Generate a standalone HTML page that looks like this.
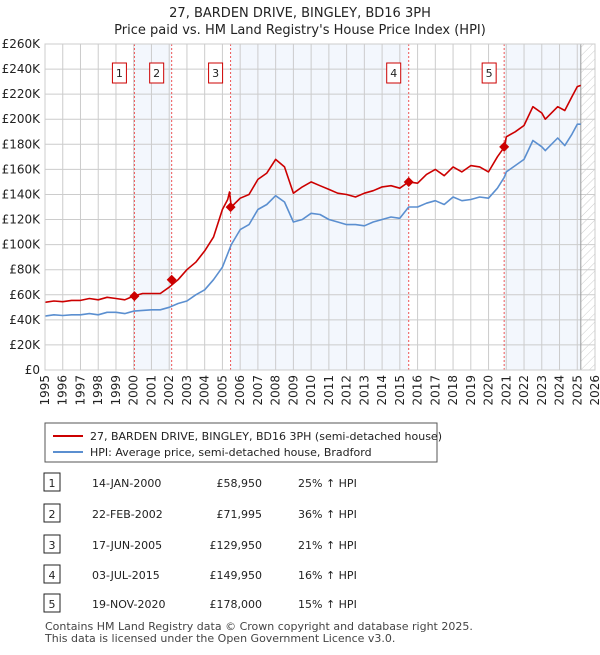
<!DOCTYPE html>
<html><head><meta charset="utf-8"><style>
body{margin:0;background:#fff;font-family:"Liberation Sans","DejaVu Sans",sans-serif;}
svg text{font-family:"DejaVu Sans","Liberation Sans",sans-serif;}
</style></head><body>
<svg width="600" height="650" xmlns="http://www.w3.org/2000/svg" id="svg">
<defs><pattern id="hatch" width="6" height="6" patternUnits="userSpaceOnUse" patternTransform="rotate(45)"><line x1="0" y1="0" x2="0" y2="6" stroke="#ccc" stroke-width="1"/></pattern></defs>
<text x="300" y="17" text-anchor="middle" font-size="13" fill="#222">27, BARDEN DRIVE, BINGLEY, BD16 3PH</text>
<text x="300" y="34" text-anchor="middle" font-size="13" fill="#222">Price paid vs. HM Land Registry's House Price Index (HPI)</text>
<g id="plot"></g>
<g>
<rect x="45" y="423" width="392" height="39" fill="#fff" stroke="#555"/>
<line x1="53" y1="436" x2="83" y2="436" stroke="#cc0000" stroke-width="2"/>
<text x="90" y="440" font-size="11" fill="#222">27, BARDEN DRIVE, BINGLEY, BD16 3PH (semi-detached house)</text>
<line x1="53" y1="452" x2="83" y2="452" stroke="#5b8fd0" stroke-width="2"/>
<text x="90" y="456" font-size="11" fill="#222">HPI: Average price, semi-detached house, Bradford</text>
</g>
<g id="table"></g>
<text x="45" y="630" font-size="11" fill="#444">Contains HM Land Registry data © Crown copyright and database right 2025.</text>
<text x="45" y="642" font-size="11" fill="#444">This data is licensed under the Open Government Licence v3.0.</text>
</svg>
<script>
const hpiYears=[1995,1995.5,1996,1996.5,1997,1997.5,1998,1998.5,1999,1999.5,2000,2000.5,2001,2001.5,2002,2002.5,2003,2003.5,2004,2004.5,2005,2005.5,2006,2006.5,2007,2007.5,2008,2008.5,2009,2009.5,2010,2010.5,2011,2011.5,2012,2012.5,2013,2013.5,2014,2014.5,2015,2015.5,2016,2016.5,2017,2017.5,2018,2018.5,2019,2019.5,2020,2020.5,2020.9,2021,2021.5,2022,2022.5,2023,2023.2,2023.9,2024.3,2024.7,2025,2025.2];
const hpiValues=[43,44,43.5,44,44,45,44,46,46,45,47,47.5,48,48,50,53,55,60,64,72,82,100,112,116,128,132,139,134,118,120,125,124,120,118,116,116,115,118,120,122,121,130,130,133,135,132,138,135,136,138,137,145,154,158,163,168,183,178,175,185,179,188,196,196];
const propYears=[1995,1995.5,1996,1996.5,1997,1997.5,1998,1998.5,1999,1999.5,2000,2000.5,2001,2001.5,2002,2002.5,2003,2003.5,2004,2004.5,2005,2005.3,2005.4,2005.5,2006,2006.5,2007,2007.5,2008,2008.5,2009,2009.5,2010,2010.5,2011,2011.5,2012,2012.5,2013,2013.5,2014,2014.5,2015,2015.5,2016,2016.5,2017,2017.5,2018,2018.5,2019,2019.5,2020,2020.5,2020.9,2021,2021.5,2022,2022.5,2023,2023.2,2023.9,2024.3,2024.7,2025,2025.2];
const propValues=[54,55,54.5,55.5,55.5,57,56,58,57,56,59,61,61,61,66,72,80,86,95,106,128,136,142,130,137,140,152,157,168,162,141,146,150,147,144,141,140,138,141,143,146,147,145,150,149,156,160,155,162,158,163,162,158,170,178,186,190,195,210,205,200,210,207,218,226,227];
const saleYears=[2000.04,2002.14,2005.46,2015.5,2020.88];
const salePrices=[58950,71995,129950,149950,178000];
const saleDates=["14-JAN-2000","22-FEB-2002","17-JUN-2005","03-JUL-2015","19-NOV-2020"];
const salePriceLabels=["£58,950","£71,995","£129,950","£149,950","£178,000"];
const saleHpiLabels=["25% ↑ HPI","36% ↑ HPI","21% ↑ HPI","16% ↑ HPI","15% ↑ HPI"];
const yTicks=[0,20,40,60,80,100,120,140,160,180,200,220,240,260];
const NS="http://www.w3.org/2000/svg";
const X0=45,X1=595,Y0=370,Y1=44;
const x=v=>X0+(v-1995)*(X1-X0)/31;
const y=v=>Y0-v*(Y0-Y1)/260;
function mk(tag,attrs,parent){const e=document.createElementNS(NS,tag);for(const k in attrs)e.setAttribute(k,attrs[k]);parent.appendChild(e);return e;}
const P=document.getElementById('plot');
const bands=[[saleYears[0],saleYears[1]],[saleYears[2],saleYears[3]],[saleYears[4],2025.2]];
bands.forEach(b=>{const r=mk('rect',{x:x(b[0]),y:Y1,width:x(b[1])-x(b[0]),height:Y0-Y1,fill:'#eef3fc',opacity:0.7},P);

});
const h=mk('rect',{x:x(2025.2),y:Y1,width:X1-x(2025.2),height:Y0-Y1,fill:'url(#hatch)'},P);


for(let yr=1995;yr<=2026;yr++){const l=mk('line',{x1:x(yr),x2:x(yr),y1:Y1,y2:Y0,stroke:'#ccc','stroke-width':1},P);


const tx=x(yr)+4,ty=375;
const t=mk('text',{x:tx,y:ty,'text-anchor':'end','font-size':12,fill:'#222',transform:`rotate(-90 ${tx} ${ty})`},P);t.textContent=yr;

}
yTicks.forEach(v=>{const l=mk('line',{x1:X0,x2:X1,y1:y(v),y2:y(v),stroke:'#ccc','stroke-width':1},P);


const t=mk('text',{x:40,y:y(v)+4,'text-anchor':'end','font-size':12,fill:'#222'},P);t.textContent=v===0?'£0':'£'+v+'K';

});
const vl=mk('line',{x1:x(2025.2),x2:x(2025.2),y1:Y1,y2:Y0,stroke:'#999','stroke-width':1},P);


saleYears.forEach((s,i)=>{const l=mk('line',{x1:x(s),x2:x(s),y1:Y1,y2:Y0,stroke:'#e55','stroke-width':1,'stroke-dasharray':'2,2'},P);


const r=mk('rect',{x:x(s)-15-7,y:63,width:14,height:20,fill:'#fff',stroke:'#cc0000'},P);


const t=mk('text',{x:x(s)-15,y:77,'text-anchor':'middle','font-size':11,fill:'#222'},P);t.textContent=i+1;

});
function line(xs,vs,col,name){const d=xs.map((a,i)=>(i?'L':'M')+x(a).toFixed(1)+','+y(vs[i]).toFixed(1)).join('');
const p=mk('path',{d:d,fill:'none',stroke:col,'stroke-width':1.6,'stroke-linejoin':'round'},P);

}
line(hpiYears,hpiValues,'#5b8fd0','hpi-line');
line(propYears,propValues,'#cc0000','property-price-line');
saleYears.forEach((s,i)=>{const cx=x(s),cy=y(salePrices[i]/1000);
const d=mk('path',{d:`M${cx},${cy-5}L${cx+5},${cy}L${cx},${cy+5}L${cx-5},${cy}Z`,fill:'#cc0000'},P);

});
const pf=mk('rect',{x:X0,y:Y1,width:X1-X0,height:Y0-Y1,fill:'none',stroke:'#ccc'},P);


const T=document.getElementById('table');
const rowY=[483,514,545,575,604];
saleDates.forEach((d,i)=>{const yy=rowY[i];
const b=mk('rect',{x:44,y:yy-10,width:16,height:18,fill:'#fff',stroke:'#222'},T);


const cells=[[52,'middle',String(i+1)],[92,'start',d],[262,'end',salePriceLabels[i]],[298,'start',saleHpiLabels[i]]];
cells.forEach(c=>{const t=mk('text',{x:c[0],y:yy+4,'text-anchor':c[1],'font-size':11,fill:'#222'},T);t.textContent=c[2];

});});
</script>
</body></html>
